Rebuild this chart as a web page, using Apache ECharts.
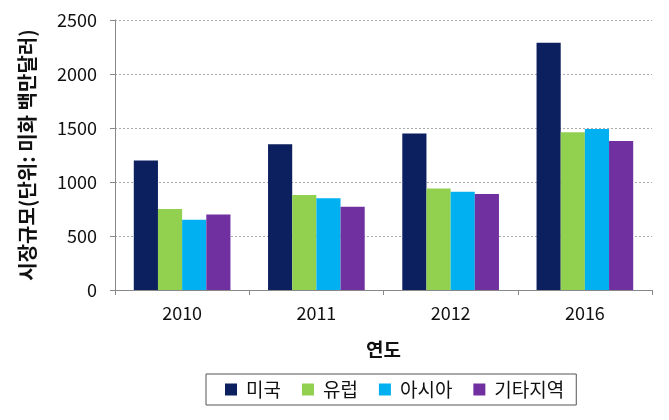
<!DOCTYPE html>
<html><head><meta charset="utf-8">
<script src="https://cdn.jsdelivr.net/npm/echarts@6/dist/echarts.min.js"></script>
<style>html,body{margin:0;padding:0;background:#fff}#c{width:669px;height:420px}</style>
</head><body><div id="c"></div>
<script>
const categories = ['2010', '2011', '2012', '2016'];
const seriesNames = ['미국', '유럽', '아시아', '기타지역'];
const usa = [1200, 1350, 1450, 2290];
const europe = [750, 880, 940, 1460];
const asia = [650, 850, 910, 1490];
const others = [700, 770, 890, 1380];
const colors = ['#0C1F5E', '#92D050', '#00B0F0', '#7030A0'];
const font = '"Noto Sans CJK KR", "Noto Sans", sans-serif';
const chart = echarts.init(document.getElementById('c'));
const dataSets = [usa, europe, asia, others];
chart.setOption({
  animation: false,
  textStyle: { fontFamily: font },
  grid: { left: 115, right: 17, top: 20, bottom: 130 },
  legend: {
    data: seriesNames,
    left: 206, top: 374,
    width: 420,
    padding: [6, 12, 6, 19],
    borderColor: '#555', borderWidth: 1,
    itemWidth: 12, itemHeight: 12, itemGap: 21,
    icon: 'rect',
    textStyle: { fontSize: 19, color: '#111', fontFamily: font, padding: [0, 0, 0, 4] }
  },
  xAxis: {
    type: 'category', data: categories,
    name: '연도', nameLocation: 'middle', nameGap: 50,
    nameTextStyle: { fontSize: 19, fontWeight: 'bold', color: '#111', fontFamily: font },
    axisLine: { lineStyle: { color: '#888' } },
    axisTick: { show: true, length: 5, lineStyle: { color: '#888' } },
    axisLabel: { fontSize: 18, color: '#111', margin: 14, fontFamily: font }
  },
  yAxis: {
    type: 'value', min: 0, max: 2500, interval: 500,
    name: '시장규모(단위: 미화 백만달러)', nameLocation: 'middle', nameGap: 78,
    nameTextStyle: { fontSize: 20, fontWeight: 'bold', color: '#111', fontFamily: font },
    axisLine: { show: true, lineStyle: { color: '#888' } },
    axisTick: { show: true, length: 5, lineStyle: { color: '#888' } },
    axisLabel: { fontSize: 18, color: '#111', margin: 18, fontFamily: font, formatter: v => String(v) },
    splitLine: { lineStyle: { color: '#aaa', type: [2, 2] } }
  },
  series: seriesNames.map((n, i) => ({
    name: n, type: 'bar', data: dataSets[i],
    barGap: '0%', barCategoryGap: '28%',
    itemStyle: { color: colors[i] }
  }))
});
</script></body></html>
